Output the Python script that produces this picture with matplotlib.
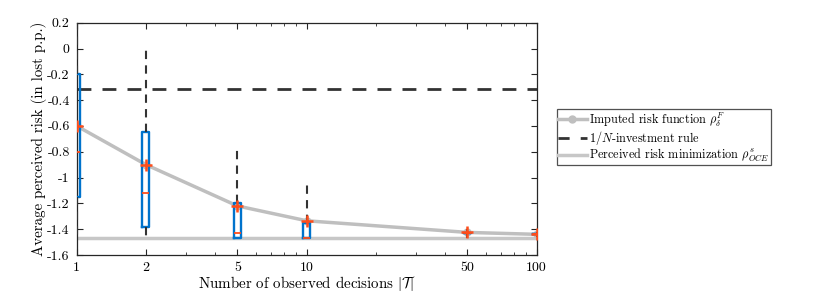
import matplotlib
matplotlib.use("Agg")
import matplotlib.pyplot as plt
from matplotlib.lines import Line2D

plt.rcParams['font.family'] = ['cmr10', 'DejaVu Serif']
plt.rcParams['mathtext.fontset'] = 'cm'
plt.rcParams['axes.unicode_minus'] = False
plt.rcParams['axes.formatter.use_mathtext'] = True

# ---- data ----
n_decisions = [1, 2, 5, 10, 50, 100]
imputed_risk = [-0.60, -0.90, -1.22, -1.335, -1.425, -1.44]
whisk_hi = [0.20, 0.00, -0.75, -1.02, -1.40, -1.42]
q3_vals = [-0.20, -0.65, -1.20, -1.35, -1.43, -1.44]
median_vals = [-0.80, -1.12, -1.43, -1.47, -1.43, -1.44]
q1_vals = [-1.15, -1.38, -1.47, -1.47, -1.43, -1.44]
whisk_lo = [-1.47, -1.47, -1.47, -1.47, -1.47, -1.46]
one_over_n = -0.31
perceived_min = -1.47
yticks = [0.2, 0, -0.2, -0.4, -0.6, -0.8, -1, -1.2, -1.4, -1.6]
ytick_labels = ['0.2', '0', '-0.2', '-0.4', '-0.6', '-0.8', '-1', '-1.2', '-1.4', '-1.6']
xtick_labels = ['1', '2', '5', '10', '50', '100']

fig = plt.figure(figsize=(8.3, 2.94), dpi=100)
ax = fig.add_axes([0.0924, 0.1327, 0.5542, 0.7901])

gray = (0.75, 0.75, 0.75)
dark = (0.2, 0.2, 0.2)
blue = (0.0, 0.45, 0.80)
red = (1.0, 0.3, 0.1)

ax.set_xscale('log')

# perceived risk minimization
ax.plot([n_decisions[0], n_decisions[-1]], [perceived_min, perceived_min],
        color=(0.78, 0.78, 0.78), lw=2.5, zorder=2)
# 1/N rule
ax.plot([n_decisions[0], n_decisions[-1]], [one_over_n, one_over_n],
        color=dark, lw=2.0, dashes=(5, 4), zorder=2)
# imputed risk function
ax.plot(n_decisions, imputed_risk, color=gray, lw=2.5, marker='o', ms=5,
        mfc=gray, mec=gray, zorder=3)

# boxplots
stats = []
for i, x in enumerate(n_decisions):
    stats.append(dict(med=median_vals[i], q1=q1_vals[i], q3=q3_vals[i],
                      whislo=whisk_lo[i], whishi=whisk_hi[i],
                      mean=imputed_risk[i], fliers=[]))
widths = [0.07 * x for x in n_decisions]
ax.bxp(stats, positions=n_decisions, widths=widths, showmeans=True,
       showcaps=False, manage_ticks=False, patch_artist=False,
       boxprops=dict(color=blue, lw=1.7),
       whiskerprops=dict(color=dark, lw=1.5, dashes=(4, 3)),
       medianprops=dict(color=red, lw=1.3),
       meanprops=dict(marker='+', markeredgecolor=red, markersize=9,
                      markeredgewidth=1.8),
       zorder=4)

ax.set_xlim(1, 100)
ax.set_ylim(-1.6, 0.2)
ax.set_xticks(n_decisions)
ax.set_xticklabels(xtick_labels)
ax.set_yticks(yticks)
ax.set_yticklabels(ytick_labels)

for s in ax.spines.values():
    s.set_color((0.15, 0.15, 0.15))
    s.set_linewidth(0.9)
ax.tick_params(which='both', direction='in', top=True, right=True,
               colors=(0.15, 0.15, 0.15), labelsize=10, labelcolor='black')
ax.tick_params(which='major', length=4, pad=5)
ax.tick_params(which='minor', length=2.5)

ax.set_xlabel(r'Number of observed decisions $|\mathcal{T}|$', fontsize=10.8, labelpad=0)
ax.set_ylabel('Average perceived risk (in lost p.p.)', fontsize=10.8, labelpad=0)

handles = [
    Line2D([], [], color=gray, lw=2.5, marker='o', ms=5, mfc=gray, mec=gray),
    Line2D([], [], color=dark, lw=2.0, dashes=(4, 4)),
    Line2D([], [], color=(0.78, 0.78, 0.78), lw=2.5),
]
labels = [r'Imputed risk function $\rho_\delta^F$',
          r'1/$N$-investment rule',
          r'Perceived risk minimization $\rho_{OCE}^s$']
leg = fig.legend(handles, labels, loc='center left', bbox_to_anchor=(0.671, 0.533),
                 fontsize=8.8, frameon=True, fancybox=False, handlelength=2.3,
                 handletextpad=0.2, borderpad=0.12, labelspacing=0.0,
                 borderaxespad=0)
leg.get_frame().set_edgecolor((0.15, 0.15, 0.15))
leg.get_frame().set_linewidth(0.9)

fig.savefig('out.png', dpi=100)
